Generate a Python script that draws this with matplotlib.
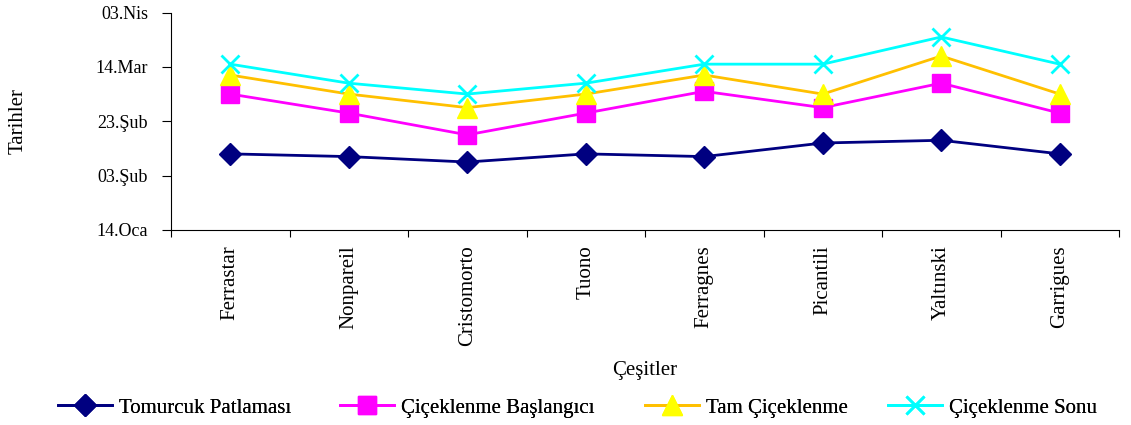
import matplotlib
matplotlib.use("Agg")
import matplotlib.pyplot as plt
import matplotlib.dates as mdates
import numpy as np

plt.rcParams['font.family'] = ['Liberation Serif', 'DejaVu Serif']

# data
cesitler = ['Ferrastar', 'Nonpareil', 'Cristomorto', 'Tuono',
            'Ferragnes', 'Picantili', 'Yaltınski', 'Garrigues']

tomurcuk = ['2004-02-11', '2004-02-10', '2004-02-08', '2004-02-11',
            '2004-02-10', '2004-02-15', '2004-02-16', '2004-02-11']
baslangic = ['2004-03-04', '2004-02-26', '2004-02-18', '2004-02-26',
             '2004-03-05', '2004-02-28', '2004-03-08', '2004-02-26']
tam = ['2004-03-11', '2004-03-04', '2004-02-28', '2004-03-04',
       '2004-03-11', '2004-03-04', '2004-03-18', '2004-03-04']
sonu = ['2004-03-15', '2004-03-08', '2004-03-04', '2004-03-08',
        '2004-03-15', '2004-03-15', '2004-03-25', '2004-03-15']

seri_adlari = ['Tomurcuk Patlaması', 'Çiçeklenme Başlangıcı',
               'Tam Çiçeklenme', 'Çiçeklenme Sonu']

ytick_tarihler = ['2004-01-14', '2004-02-03', '2004-02-23',
                  '2004-03-14', '2004-04-03']
aylar = {1: 'Oca', 2: 'Şub', 3: 'Mar', 4: 'Nis'}


def to_num(lst):
    return mdates.datestr2num(lst)


W, H = 1131, 425
fig = plt.figure(figsize=(W / 100, H / 100), dpi=100)
ax = fig.add_axes((171 / W, 1 - 230 / H, 948 / W, 217.5 / H))

x = np.arange(len(cesitler)) + 0.5

lines = []
lines += ax.plot(x, to_num(tomurcuk), color='#000080', lw=2, marker='D',
                 ms=11, mfc='#000080', mec='#000080', label=seri_adlari[0])
lines += ax.plot(x, to_num(baslangic), color='#FF00FF', lw=2, marker='s',
                 ms=13, mfc='#FF00FF', mec='#FF00FF', label=seri_adlari[1])
lines += ax.plot(x, to_num(tam), color='#FFC000', lw=2, marker='^', ms=14,
                 mfc='#FFFF00', mec='#FFFF00', label=seri_adlari[2])
lines += ax.plot(x, to_num(sonu), color='#00FFFF', lw=2, marker='x', ms=13,
                 mew=2, label=seri_adlari[3])

yt = to_num(ytick_tarihler)
ax.set_ylim(yt[0], yt[-1])
ax.set_yticks(yt)


def tr_fmt(v, pos=None):
    d = mdates.num2date(v)
    return '%02d.%s' % (d.day, aylar[d.month])


ax.yaxis.set_major_formatter(plt.FuncFormatter(tr_fmt))

ax.set_xlim(0, len(cesitler))
ax.set_xticks(np.arange(len(cesitler) + 1))
ax.set_xticklabels([])
ax.set_xticks(x, minor=True)
ax.set_xticklabels(cesitler, minor=True, rotation=90, fontsize=15)
ax.tick_params(axis='x', which='minor', length=0, pad=11)
ax.tick_params(axis='x', which='major', length=5, direction='out')
ax.tick_params(axis='y', length=6.5, pad=10, labelsize=13)

for s in ['top', 'right']:
    ax.spines[s].set_visible(False)

ax.set_ylabel('Tarihler', fontsize=15, va='center')
ax.yaxis.set_label_coords(-153 / 948, 0.5)
ax.set_xlabel('Çeşitler', fontsize=15, va='center')
ax.xaxis.set_label_coords(0.5, -(371 - 230) / 217.5)

# legend entries placed one by one along the bottom row
leg_x = [58, 340, 645, 888]
for ln, lx in zip(lines, leg_x):
    lg = fig.legend(handles=[ln], loc='center left',
                    bbox_to_anchor=(lx / W, 1 - 408 / H), frameon=False,
                    fontsize=15, handlelength=2.6, handletextpad=0.35,
                    borderpad=0, borderaxespad=0)
    fig.add_artist(lg)

fig.savefig('out.png', dpi=100)
